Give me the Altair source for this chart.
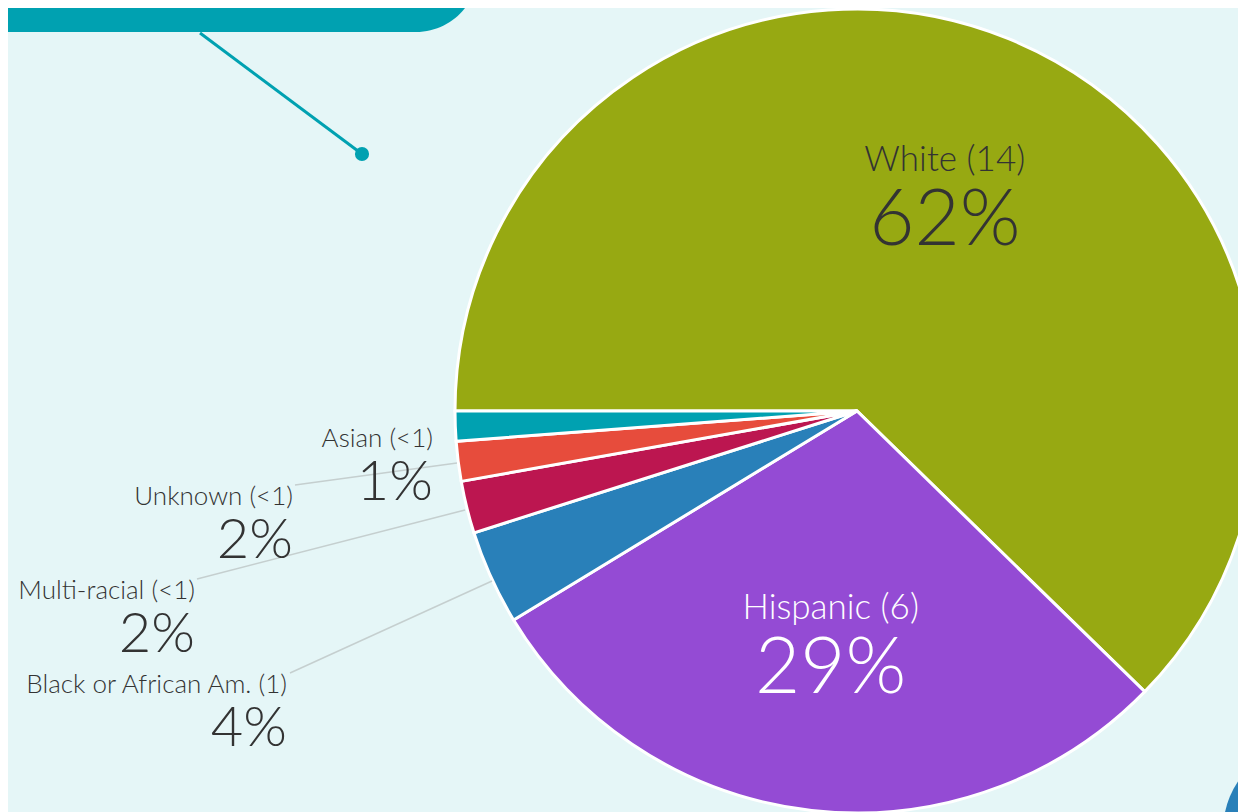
import math
import altair as alt
import pandas as pd

# ---- data ----
groups = ["White", "Hispanic", "Black or African Am.", "Multi-racial", "Unknown", "Asian"]
shares = [62.3, 29.0, 3.8, 2.1, 1.6, 1.2]
counts = ["14", "6", "1", "<1", "<1", "<1"]
pct_labels = ["62%", "29%", "4%", "2%", "2%", "1%"]

# ---- style ----
slice_colors = ["#97a912", "#944bd4", "#2980b9", "#bc1650", "#e74c3c", "#00a1b1"]
inner_text_colors = ["#333333", "#ffffff", "#333333", "#333333", "#333333", "#333333"]
BG = "#e5f6f7"
TEAL = "#00a1b1"
FONT = "Lato"

# ---- layout (chart coordinates; page = chart + 8px margin) ----
W, H = 1230, 804
CX, CY, R = 849, 403, 402
START = 1.5 * math.pi
inner_groups = ["White", "Hispanic"]
outer_groups = ["Asian", "Unknown", "Multi-racial", "Black or African Am."]
outer_right_x = [425, 285, 187, 279]
outer_label_y = [439, 497, 591, 685]
outer_pct_y = [492, 550, 644, 738]
leader_groups = ["Unknown", "Multi-racial", "Black or African Am."]
leader_x1 = [287, 189, 282]
leader_y1 = [477, 571, 665]
leader_x2 = [449, 457, 484]
leader_y2 = [455, 502, 573]

df = pd.DataFrame({
    "group": groups,
    "share": shares,
    "order": list(range(len(groups))),
    "label": [f"{g} ({c})" for g, c in zip(groups, counts)],
    "pct": pct_labels,
    "tcolor": inner_text_colors,
})
df["inner_label"] = [l if g in inner_groups else "" for g, l in zip(groups, df["label"])]
df["inner_pct"] = [p if g in inner_groups else "" for g, p in zip(groups, df["pct"])]

theta = alt.Theta("share:Q", stack=True, scale=alt.Scale(range=[START, START + 2 * math.pi]))
order = alt.Order("order:Q", sort="ascending")

base = alt.Chart(df)
pie = base.mark_arc(outerRadius=R, stroke="white", strokeWidth=3).encode(
    theta=theta,
    order=order,
    color=alt.Color("group:N", scale=alt.Scale(domain=groups, range=slice_colors), legend=None),
    x=alt.value(CX),
    y=alt.value(CY),
)

inner_lbl = base.mark_text(radius=233, dy=-24, fontSize=35, font=FONT, fontWeight=300,
                           align="center", baseline="alphabetic").encode(
    theta=theta, order=order, detail="group:N",
    text="inner_label:N",
    color=alt.Color("tcolor:N", scale=None),
    x=alt.value(CX), y=alt.value(CY),
)
inner_pct = base.mark_text(radius=233, dy=50, fontSize=78, font=FONT, fontWeight=300,
                           align="center", baseline="alphabetic").encode(
    theta=theta, order=order, detail="group:N",
    text="inner_pct:N",
    color=alt.Color("tcolor:N", scale=None),
    x=alt.value(CX), y=alt.value(CY),
)

odf = df.set_index("group").loc[outer_groups].reset_index()
odf["rx"] = outer_right_x
odf["ly"] = outer_label_y
odf["py"] = outer_pct_y
outer_lbl = alt.Chart(odf).mark_text(fontSize=26, font=FONT, fontWeight=300, align="right",
                                     baseline="alphabetic", color="#333333").encode(
    x=alt.X("rx:Q", scale=None), y=alt.Y("ly:Q", scale=None), text="label:N")
outer_pct = alt.Chart(odf).mark_text(fontSize=56, font=FONT, fontWeight=300, align="right",
                                     baseline="alphabetic", color="#333333").encode(
    x=alt.X("rx:Q", scale=None), y=alt.Y("py:Q", scale=None), text="pct:N")

ldf = pd.DataFrame({"group": leader_groups, "x1": leader_x1, "y1": leader_y1,
                    "x2": leader_x2, "y2": leader_y2})
leaders = alt.Chart(ldf).mark_rule(color="#c5cfcf", strokeWidth=1.5).encode(
    x=alt.X("x1:Q", scale=None), y=alt.Y("y1:Q", scale=None),
    x2="x2:Q", y2="y2:Q")

one = pd.DataFrame({"k": [0]})
box = alt.Chart(one).mark_rect(color=TEAL, cornerRadiusBottomRight=76).encode(
    x=alt.value(-60), x2=alt.value(470), y=alt.value(-100), y2=alt.value(24))
box_text = alt.Chart(one).mark_text(fontSize=40, font=FONT, fontWeight=300, color="white",
                                    align="right", baseline="alphabetic").encode(
    x=alt.value(184), y=alt.value(-4), text=alt.value("& Unknown"))
connector = alt.Chart(one).mark_rule(color=TEAL, strokeWidth=3).encode(
    x=alt.value(192), y=alt.value(25), x2=alt.value(354), y2=alt.value(146))
dot = alt.Chart(one).mark_circle(color=TEAL, opacity=1, size=200).encode(
    x=alt.value(354), y=alt.value(146))
corner = alt.Chart(one).mark_circle(color="#2980b9", opacity=1, size=30172).encode(
    x=alt.value(1302), y=alt.value(822))

chart = alt.layer(
    box, box_text, connector, dot, corner, pie, leaders, inner_lbl, inner_pct, outer_lbl, outer_pct
).properties(
    width=W, height=H, padding=0, background=BG,
    autosize=alt.AutoSizeParams(type="none"),
).configure_view(stroke=None)

chart.save("out.html", embed_options={"renderer": "svg", "actions": False})
